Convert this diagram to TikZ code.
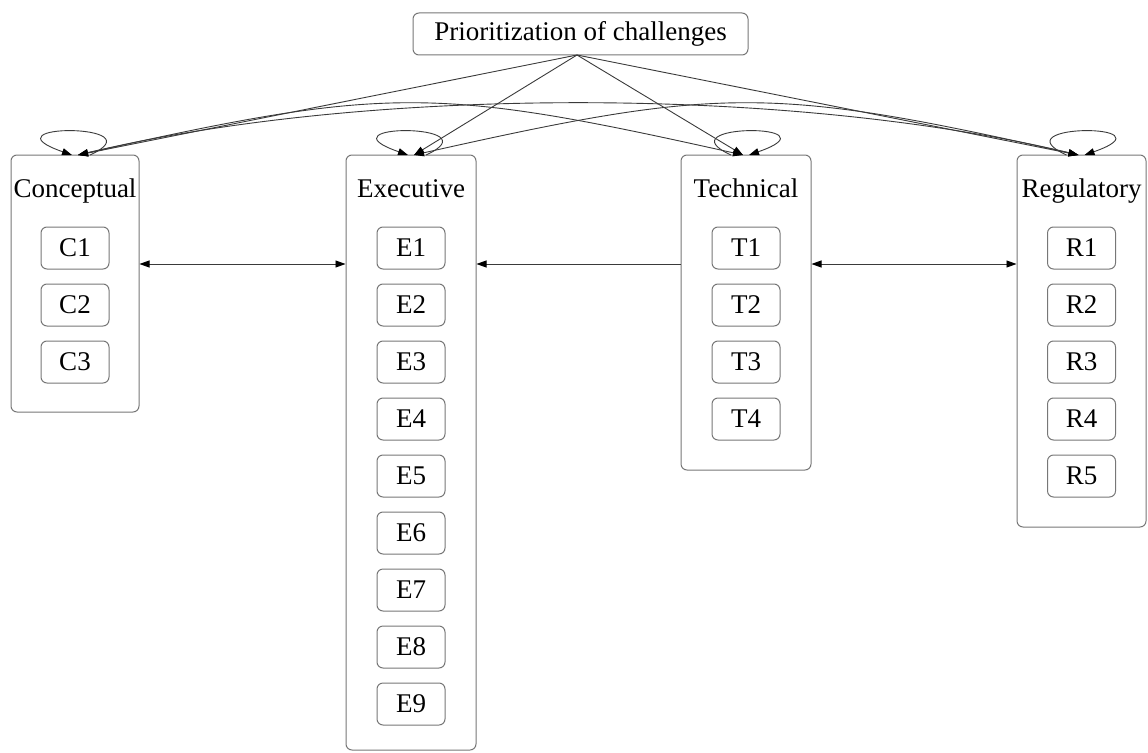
\documentclass[tikz,border=0pt]{standalone}
\usepackage{fontspec}
\setmainfont{Liberation Serif}
\usetikzlibrary{arrows.meta}
\definecolor{boxgray}{HTML}{777777}
\definecolor{linegray}{HTML}{3A3A3A}
\newcommand\diagfont{\fontsize{27}{30}\selectfont}
\begin{document}
\begin{tikzpicture}[x=1pt,y=-1pt,
  box/.style={draw=boxgray, line width=1pt, rounded corners=6pt, inner sep=0pt},
  item/.style={draw=boxgray, line width=1pt, rounded corners=6pt, minimum width=68pt, minimum height=42pt, inner sep=0pt, font=\diagfont},
  ttl/.style={anchor=base, inner sep=0pt, font=\diagfont},
  edge/.style={draw=linegray, line width=0.9pt, -{Triangle[length=10pt,width=7pt,color=black]}},
  both/.style={draw=linegray, line width=0.9pt, {Triangle[length=10pt,width=7pt,color=black]}-{Triangle[length=10pt,width=7pt,color=black]}},
]
\useasboundingbox (0,0) rectangle (1148,752);

% prioritization
\node[box, minimum width=335pt, minimum height=42pt, font=\diagfont] (P) at (580.5,34) {Prioritization of challenges};
\coordinate (Ps) at (577,55);

% group boxes
\node[box, minimum width=128pt, minimum height=257pt] (C) at (75,283.5) {};
\node[box, minimum width=130pt, minimum height=595pt] (E) at (411,452.5) {};
\node[box, minimum width=130pt, minimum height=315pt] (T) at (746,312.5) {};
\node[box, minimum width=129pt, minimum height=372pt] (R) at (1081.5,341) {};

\node[ttl] (Ct) at (75,197) {Conceptual};
\node[ttl] (Et) at (411,197) {Executive};
\node[ttl] (Tt) at (746,197) {Technical};
\node[ttl] (Rt) at (1081.5,197) {Regulatory};

\foreach \i in {1,...,3} \node[item] (C\i) at (75,{248+57*(\i-1)}) {C\i};
\foreach \i in {1,...,9} \node[item] (E\i) at (411,{248+57*(\i-1)}) {E\i};
\foreach \i in {1,...,4} \node[item] (T\i) at (746,{248+57*(\i-1)}) {T\i};
\foreach \i in {1,...,5} \node[item] (R\i) at (1081.5,{248+57*(\i-1)}) {R\i};

% anchor points on tops
\coordinate (Cin) at (78,155);   \coordinate (Cl) at (72,155);   \coordinate (Cs) at (90,155);
\coordinate (Ein) at (414,155);  \coordinate (El) at (408,155);  \coordinate (Es) at (426,155);
\coordinate (Tin) at (743,155);  \coordinate (Tl) at (749,155);  \coordinate (Ts) at (731,155);
\coordinate (Rin) at (1078.5,155); \coordinate (Rl) at (1084.5,155); \coordinate (Rs) at (1066.5,155);

% self loops
\draw[edge] (Cs) .. controls (160,123) and (-20,123) .. (Cl);
\draw[edge] (Es) .. controls (496,123) and (316,123) .. (El);
\draw[edge] (Ts) .. controls (661,123) and (841,123) .. (Tl);
\draw[edge] (Rs) .. controls (996.5,123) and (1176.5,123) .. (Rl);

% from prioritization
\draw[edge] (Ps) -- (Cin);
\draw[edge] (Ps) -- (Ein);
\draw[edge] (Ps) -- (Tin);
\draw[edge] (Ps) -- (Rin);

% curved links
\draw[both] (Cin) .. controls (387,86) and (434,86) .. (Tin);
\draw[both] (Cin) .. controls (367,86) and (789.5,86) .. (Rin);
\draw[both] (Ein) .. controls (721,86) and (771.5,86) .. (Rin);

% horizontal links
\coordinate (hy) at (0,264);
\draw[both] (C.east |- hy) -- (E.west |- hy);
\draw[edge] (T.west |- hy) -- (E.east |- hy);
\draw[both] (T.east |- hy) -- (R.west |- hy);
\end{tikzpicture}
\end{document}
